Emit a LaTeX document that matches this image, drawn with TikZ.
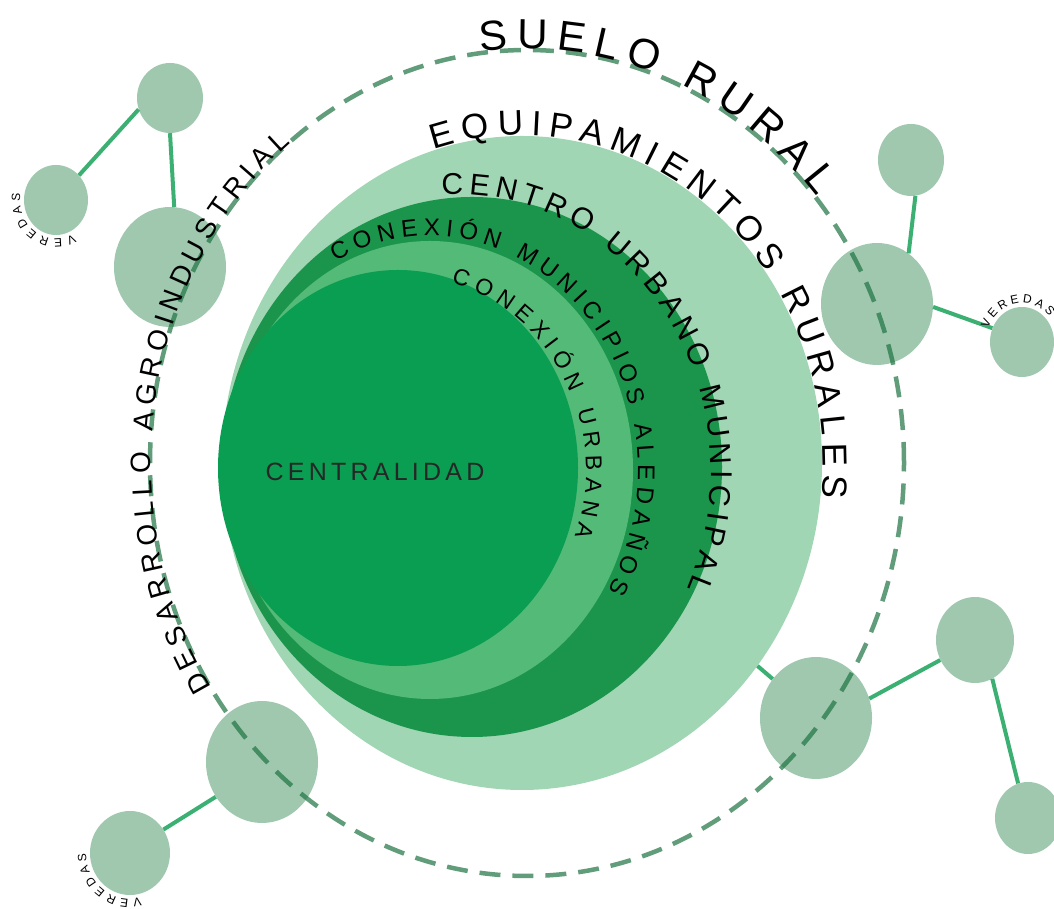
\documentclass[tikz,border=0pt]{standalone}
\usepackage{fontspec}
\setmainfont{Liberation Sans}
\newfontfamily\spacedfont{Liberation Sans}[LetterSpace=17]
\usetikzlibrary{shapes.geometric,decorations.text}
\definecolor{LightDisk}{RGB}{161,214,180}
\definecolor{DarkBand}{RGB}{27,148,76}
\definecolor{MidBand}{RGB}{84,186,120}
\definecolor{CoreGreen}{RGB}{10,158,82}
\definecolor{SatGreen}{RGB}{160,200,175}
\definecolor{LinkGreen}{RGB}{60,176,114}
\definecolor{RingGreen}{RGB}{30,115,65}
\newcommand\rf[1]{\fontsize{#1}{#1}\selectfont}
\tikzset{
  disk/.style={ellipse, inner sep=0pt, draw=none},
  sat/.style={ellipse, inner sep=0pt, draw=none, fill=SatGreen},
  link/.style={draw=LinkGreen, line width=4pt},
  ring/.style={ellipse, inner sep=0pt, draw=RingGreen, draw opacity=0.7,
    line width=4.5pt, dash pattern=on 21pt off 12pt},
  arctext/.style={decorate, decoration={text along path, text={#1},
    text align={fit to path}, raise=1pt}},
}

\begin{document}
\begin{tikzpicture}[x=1pt, y=1pt]
  \useasboundingbox (0,0) rectangle (1054,909);
  % nested discs
  \node[disk, fill=LightDisk, minimum width=600pt, minimum height=654pt] (rural) at (522,446) {};
  \node[disk, fill=DarkBand, minimum width=500pt, minimum height=540pt] (centro) at (472,442) {};
  \node[disk, fill=MidBand, minimum width=406pt, minimum height=458pt] (aledanos) at (430,439) {};
  \node[disk, fill=CoreGreen, minimum width=360pt, minimum height=396pt] (core) at (398,441) {};
  % veredas
  \foreach \n/\x/\y/\w/\h in {s1/170/811/66/70, s2/170/642/112/120, s3/56/709/64/70,
      s4/911/749/66/72, s5/877/605/112/122, s6/1022/567/64/70,
      s7/816/191/112/122, s8/975/269/78/86, s9/1028/91/66/72,
      s10/262/147/112/122, s11/130/56/80/84}
    \node[sat, minimum width=\w pt, minimum height=\h pt] (\n) at (\x,\y) {};
  \foreach \a/\b in {s3.47/s1.200, s1.-90/s2.86, s4.-83/s5.58, s5.-3/s6.155,
      s7.20/s8.210, s8.-66/s9.106, s10.217/s11.35}
    \draw[link] (\a) -- (\b);
  \draw[link] (s7.138) -- (rural);
  % suelo rural ring
  \node[ring, minimum width=754pt, minimum height=826pt] (suelo) at (527,446) {};
  % ring labels
  \path[arctext={|\rf{42}|SUELO RURAL}] (suelo.center) ++(97:377 and 413)
    arc[start angle=97, end angle=40, x radius=377, y radius=413];
  \path[arctext={|\rf{28}|DESARROLLO AGROINDUSTRIAL}] (suelo.center) ++(213:375 and 411)
    arc[start angle=213, end angle=129, x radius=375, y radius=411];
  \path[arctext={|\rf{35}|EQUIPAMIENTOS RURALES}] (rural.center) ++(107:300 and 327)
    arc[start angle=107, end angle=-6, x radius=300, y radius=327];
  \path[arctext={|\rf{30}|CENTRO URBANO MUNICIPAL}] (455,437) ++(93:255 and 277)
    arc[start angle=93, end angle=-25, x radius=255, y radius=277];
  \path[arctext={|\rf{24}|CONEXIÓN MUNICIPIOS ALEDAÑOS}] (aledanos.center) ++(117:207 and 233)
    arc[start angle=117, end angle=-31, x radius=207, y radius=233];
  \path[arctext={|\rf{23}|CONEXIÓN URBANA}] (404,439) ++(75:181 and 193)
    arc[start angle=75, end angle=-20, x radius=181, y radius=193];
  \node[font={\spacedfont\rf{25}}, text=black!85] (centralidad) at (375,437) {CENTRALIDAD};
  % small labels
  \path[arctext={|\rf{12}|VEREDAS}] (s3.center) ++(-61:35 and 38)
    arc[start angle=-61, end angle=-190, x radius=35, y radius=38];
  \path[arctext={|\rf{12}|VEREDAS}] (s6.center) ++(160:35 and 38)
    arc[start angle=160, end angle=40, x radius=35, y radius=38];
  \path[arctext={|\rf{12}|VEREDAS}] (s11.center) ++(-76:43 and 45)
    arc[start angle=-76, end angle=-180, x radius=43, y radius=45];
\end{tikzpicture}
\end{document}
